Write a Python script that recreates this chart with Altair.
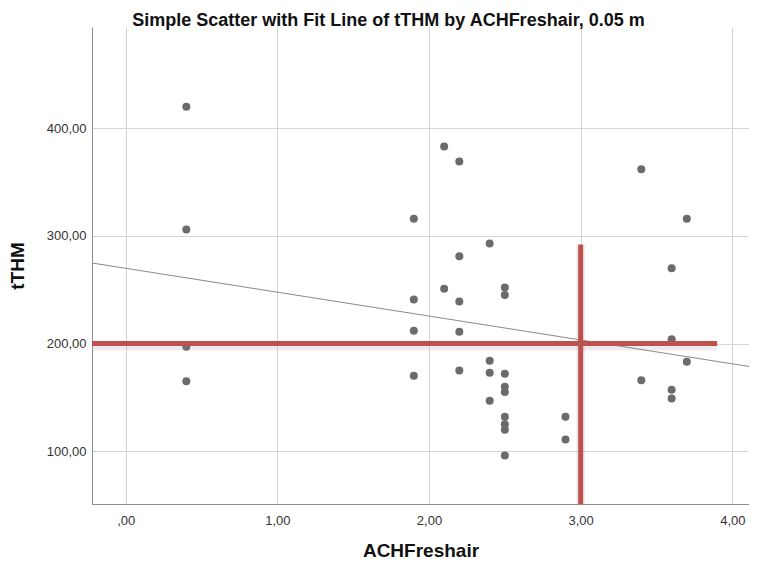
import altair as alt
import pandas as pd

# ---- data ----
ach = [0.4, 0.4, 0.4, 0.4,
       1.9, 1.9, 1.9, 1.9,
       2.1, 2.1,
       2.2, 2.2, 2.2, 2.2, 2.2,
       2.4, 2.4, 2.4, 2.4,
       2.5, 2.5, 2.5, 2.5, 2.5, 2.5, 2.5, 2.5, 2.5,
       2.9, 2.9,
       3.4, 3.4,
       3.6, 3.6, 3.6, 3.6,
       3.7, 3.7]
tthm = [420, 306, 197, 165,
        316, 241, 212, 170,
        383, 251,
        369, 281, 239, 211, 175,
        293, 184, 173, 147,
        252, 245, 172, 160, 155, 132, 125, 120, 96,
        132, 111,
        362, 166,
        270, 204, 157, 149,
        316, 183]

x_domain = [-0.222, 4.11]
y_domain = [51, 494]
x_ticks = [0, 1, 2, 3, 4]
y_ticks = [100, 200, 300, 400]

# reference lines (red cross)
h_ref = {"x": [x_domain[0]], "x2": [3.9], "y": [200]}
v_ref = {"x": [3.0], "y": [y_domain[0]], "y2": [292]}

RED = "#c0504d"
PT = "#6b6b6b"
FONT = "Liberation Sans"

df = pd.DataFrame({"x": ach, "y": tthm})
hdf = pd.DataFrame(h_ref)
vdf = pd.DataFrame(v_ref)

lab_expr = "datum.value == 0 ? ',00' : replace(format(datum.value, '.2f'), '.', ',')"

xs = alt.Scale(domain=x_domain, nice=False, zero=False)
ys = alt.Scale(domain=y_domain, nice=False, zero=False)

xaxis = alt.Axis(values=x_ticks, labelExpr=lab_expr, title="ACHFreshair", ticks=False,
                 labelPadding=10, titlePadding=14, grid=True)
yaxis = alt.Axis(values=y_ticks, labelExpr=lab_expr, title="tTHM", ticks=False,
                 labelPadding=6, titlePadding=19, grid=True)

base = alt.Chart(df)

points = base.mark_circle(size=64, color=PT, opacity=1).encode(
    x=alt.X("x:Q", scale=xs, axis=xaxis),
    y=alt.Y("y:Q", scale=ys, axis=yaxis),
)

fit = base.transform_regression("x", "y", extent=x_domain).mark_line(
    color="#8a8a8a", strokeWidth=1, clip=True
).encode(x=alt.X("x:Q", scale=xs), y=alt.Y("y:Q", scale=ys))

h_shadow = alt.Chart(hdf).mark_rule(color="#888888", opacity=0.15, strokeWidth=6, yOffset=4).encode(
    x=alt.X("x:Q", scale=xs), x2="x2:Q", y=alt.Y("y:Q", scale=ys))
h_line = alt.Chart(hdf).mark_rule(color=RED, strokeWidth=5).encode(
    x=alt.X("x:Q", scale=xs), x2="x2:Q", y=alt.Y("y:Q", scale=ys))

v_shadow = alt.Chart(vdf).mark_rule(color="#888888", opacity=0.15, strokeWidth=9).encode(
    x=alt.X("x:Q", scale=xs), y=alt.Y("y:Q", scale=ys), y2="y2:Q")
v_line = alt.Chart(vdf).mark_rule(color=RED, strokeWidth=5).encode(
    x=alt.X("x:Q", scale=xs), y=alt.Y("y:Q", scale=ys), y2="y2:Q")

chart = alt.layer(points, fit, h_shadow, h_line, v_shadow, v_line).properties(
    width=657,
    height=477,
    autosize=alt.AutoSizeParams(type="none"),
    padding={"left": 84, "top": 19, "right": 0, "bottom": 58},
    title=alt.TitleParams(
        "Simple Scatter with Fit Line of tTHM by ACHFreshair, 0.05 m",
        font=FONT, fontSize=18, fontWeight="bold", color="#111111",
        anchor="middle", dx=-32, offset=-3,
    ),
).configure_view(stroke=None).configure_axis(
    domainColor="#8c8c8c", domainWidth=1,
    gridColor="#d4d4d4", gridWidth=1,
    labelFont=FONT, labelFontSize=13, labelColor="#333333",
    titleFont=FONT, titleFontSize=19, titleFontWeight="bold", titleColor="#111111",
)

chart.save("out.html", embed_options={"renderer": "svg", "actions": False})
